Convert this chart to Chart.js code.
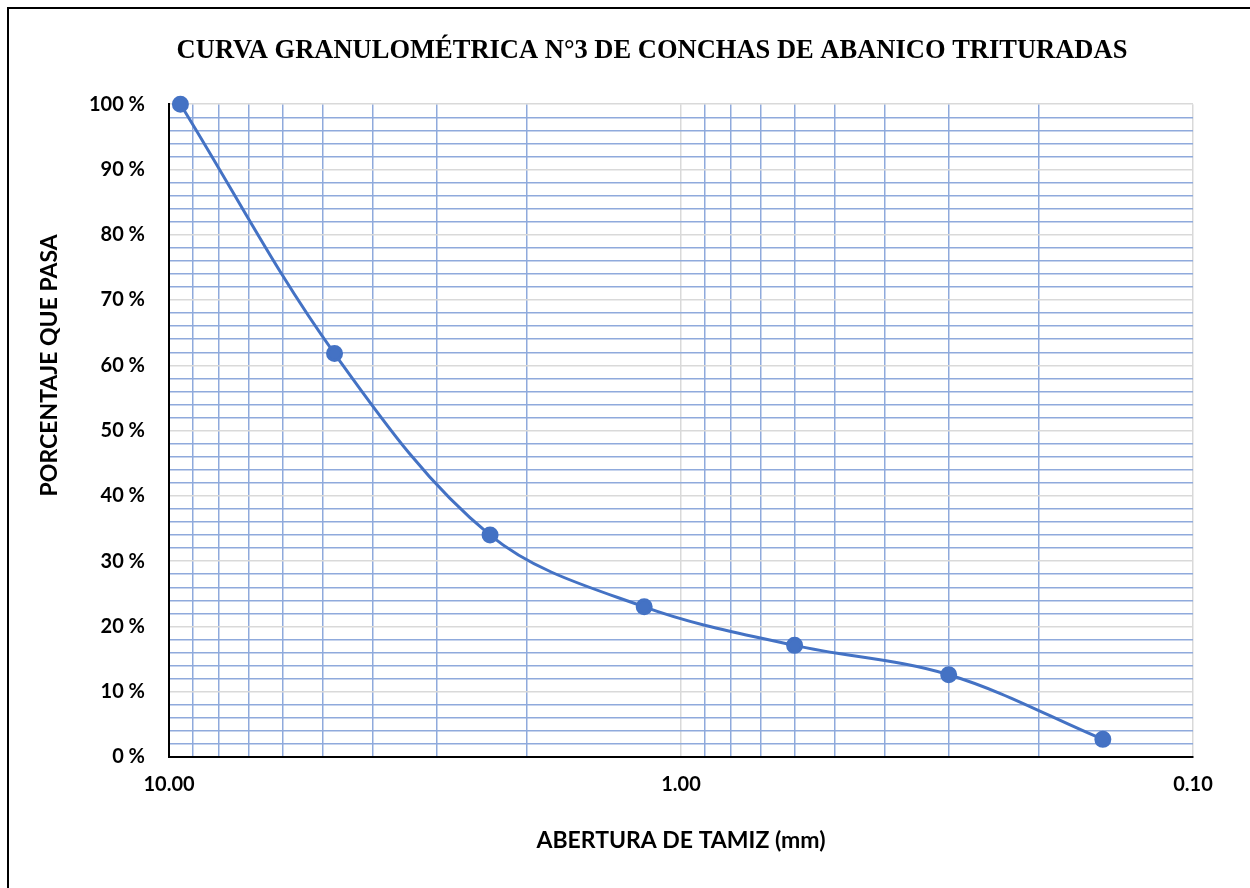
<!DOCTYPE html>
<html>
<head>
<meta charset="utf-8">
<script src="https://cdn.jsdelivr.net/npm/chart.js@4.4.1/dist/chart.umd.min.js"></script>
<style>
  html, body { margin: 0; padding: 0; background: #fff; overflow: hidden; }
  #frame { position: absolute; left: 7px; top: 7px; width: 1286px; height: 900px;
           border-left: 2px solid #000; border-top: 2px solid #000; }
  canvas { display: block; }
</style>
</head>
<body>
<div id="frame"><canvas id="chart" width="1286" height="900"></canvas></div>
<script>
// sieve opening (mm) and percent passing
const sieveSizes = [9.5, 4.75, 2.36, 1.18, 0.6, 0.3, 0.15]
const percentPassing = [100, 61.8, 34.0, 23.0, 17.1, 12.6, 2.7]

// x gridlines (log axis) and the ones that carry a label
const xGridValues = [0.1, 0.2, 0.3, 0.4, 0.5, 0.6, 0.7, 0.8, 0.9,
                     1, 2, 3, 4, 5, 6, 7, 8, 9, 10]
const xLabelValues = [10, 1, 0.1]
const yLabelStep = 10

const blueGrid = '#8faadc'
const grayGrid = '#d9d9d9'
const tickFont = { family: 'Lato', size: 20, weight: 'bold' }
const axisTitleFont = { family: 'Lato', size: 23, weight: 'bold' }

// Excel puts the y title a bit above the middle of the plot, so draw it here
const sideTitle = {
    id: 'sideTitle',
    afterDraw(chart, args, opts) {
        const c = chart.ctx
        const area = chart.chartArea
        c.save()
        c.translate(opts.x, area.top + (area.bottom - area.top) * opts.pos)
        c.rotate(-Math.PI / 2)
        c.textAlign = 'center'
        c.textBaseline = 'middle'
        c.fillStyle = '#000'
        c.font = `${opts.font.weight} ${opts.font.size}px ${opts.font.family}`
        c.fillText(opts.text, 0, 0)
        c.restore()
    }
}

const ctx = document.getElementById('chart').getContext('2d')
const chart = new Chart(ctx, {
    type: 'line',
    plugins: [sideTitle],
    data: {
        datasets: [{
            data: sieveSizes.map((s, i) => ({ x: s, y: percentPassing[i] })),
            borderColor: '#4472c4',
            backgroundColor: '#4472c4',
            borderWidth: 3,
            pointRadius: 7,
            pointHoverRadius: 7,
            tension: 0.35,
            fill: false,
            clip: false
        }]
    },
    options: {
        responsive: false,
        animation: false,
        layout: { padding: { left: 0, right: 0, top: 0, bottom: 52 } },
        scales: {
            x: {
                type: 'logarithmic',
                reverse: true,
                min: 0.1,
                max: 10,
                afterBuildTicks: function(scale) {
                    scale.ticks = xGridValues.map(v => ({ value: v }))
                },
                afterFit: function(scale) { scale.height = 100 },
                ticks: {
                    autoSkip: false,
                    maxRotation: 0,
                    padding: 16,
                    color: '#000',
                    font: tickFont,
                    callback: function(value) {
                        return xLabelValues.includes(value) ? value.toFixed(2) : ''
                    }
                },
                grid: {
                    drawTicks: false,
                    lineWidth: 1.5,
                    color: c => xLabelValues.includes(c.tick.value) ? grayGrid : blueGrid
                },
                border: { color: '#000', width: 2 },
                title: {
                    display: true,
                    text: 'ABERTURA DE TAMIZ (mm)',
                    color: '#000',
                    font: axisTitleFont,
                    padding: { top: 0, bottom: 3 }
                }
            },
            y: {
                min: 0,
                max: 100,
                afterFit: function(scale) { scale.width = 160 },
                ticks: {
                    stepSize: 2,
                    autoSkip: false,
                    padding: 24,
                    color: '#000',
                    font: tickFont,
                    callback: function(value) {
                        return value % yLabelStep === 0 ? value + ' %' : ''
                    }
                },
                grid: {
                    drawTicks: false,
                    lineWidth: 1.5,
                    color: c => c.tick.value % yLabelStep === 0 ? grayGrid : blueGrid
                },
                border: { color: '#000', width: 2 }
            },
            // empty right-hand box, keeps the plot narrower than the chart frame
            yRight: {
                type: 'linear',
                position: 'right',
                display: true,
                afterFit: function(scale) { scale.width = 102 },
                ticks: { display: false },
                grid: { display: false, drawTicks: false },
                border: { display: false }
            }
        },
        plugins: {
            legend: { display: false },
            tooltip: { enabled: false },
            title: {
                display: true,
                text: 'CURVA GRANULOMÉTRICA N°3 DE CONCHAS DE ABANICO TRITURADAS',
                color: '#000',
                font: { family: 'Liberation Serif', size: 26.5, weight: 'bold' },
                padding: { top: 26, bottom: 37.4 }
            },
            sideTitle: {
                text: 'PORCENTAJE QUE PASA',
                font: axisTitleFont,
                x: 41,
                pos: 0.4
            }
        }
    }
})
</script>
</body>
</html>
